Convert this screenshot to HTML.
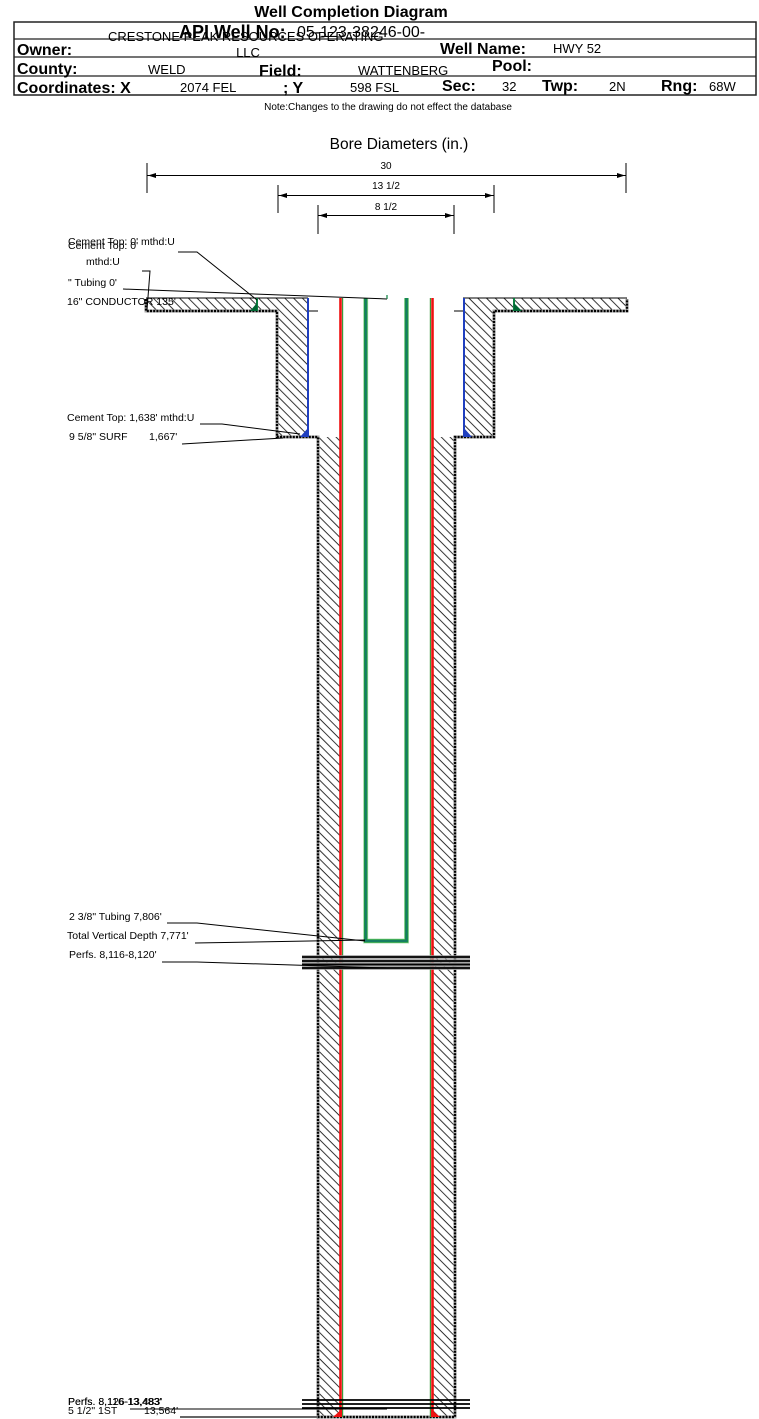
<!DOCTYPE html>
<html><head><meta charset="utf-8"><style>
html,body{margin:0;padding:0;background:#fff;}
svg{display:block;}
text{font-family:"Liberation Sans",Arial,sans-serif;fill:#000;}
.b{font-weight:bold;font-size:16px;}
.n{font-size:13px;}
.l{font-size:10.5px;}
.d{font-size:10px;}
</style></head><body>
<svg width="759" height="1419" viewBox="0 0 759 1419" xmlns="http://www.w3.org/2000/svg">
<defs>
<pattern id="h" patternUnits="userSpaceOnUse" width="6.2" height="20" patternTransform="rotate(-45)">
<line x1="3" y1="-2" x2="3" y2="22" stroke="#000" stroke-width="0.8"/>
</pattern>
</defs>
<rect width="759" height="1419" fill="#fff"/>

<!-- Header -->
<text x="351" y="17" text-anchor="middle" style="font-weight:bold;font-size:16px">Well Completion Diagram</text>
<rect x="14" y="22" width="742" height="73" fill="none" stroke="#222" stroke-width="1.5"/>
<line x1="14" y1="39" x2="756" y2="39" stroke="#222" stroke-width="1.2"/>
<line x1="14" y1="57" x2="756" y2="57" stroke="#222" stroke-width="1.2"/>
<line x1="14" y1="76" x2="756" y2="76" stroke="#222" stroke-width="1.2"/>

<text x="108" y="41" class="n">CRESTONE PEAK RESOURCES OPERATING</text>
<text x="179" y="38" style="font-weight:bold;font-size:18px">API Well No:</text>
<text x="297" y="37" style="font-size:16px">05-123-38246-00-</text>
<text x="248" y="57" class="n" text-anchor="middle">LLC</text>
<text x="17" y="55" class="b">Owner:</text>
<text x="440" y="54" class="b">Well Name:</text>
<text x="553" y="53" class="n">HWY 52</text>

<text x="17" y="74" class="b">County:</text>
<text x="148" y="74" class="n">WELD</text>
<text x="259" y="76" class="b">Field:</text>
<text x="358" y="75" class="n">WATTENBERG</text>
<text x="492" y="71" class="b">Pool:</text>

<text x="17" y="93" class="b">Coordinates: X</text>
<text x="180" y="92" class="n">2074 FEL</text>
<text x="283" y="93" class="b">; Y</text>
<text x="350" y="92" class="n">598 FSL</text>
<text x="442" y="91" class="b">Sec:</text>
<text x="502" y="91" class="n">32</text>
<text x="542" y="91" class="b">Twp:</text>
<text x="609" y="91" class="n">2N</text>
<text x="661" y="91" class="b">Rng:</text>
<text x="709" y="91" class="n">68W</text>

<text x="388" y="110" text-anchor="middle" style="font-size:10px">Note:Changes to the drawing do not effect the database</text>

<!-- Bore diameters -->
<text x="399" y="149" text-anchor="middle" style="font-size:15.5px">Bore Diameters (in.)</text>
<g stroke="#000" stroke-width="1">
<line x1="147" y1="163" x2="147" y2="193"/>
<line x1="626" y1="163" x2="626" y2="193"/>
<line x1="147" y1="175.5" x2="626" y2="175.5"/>
<line x1="278" y1="185" x2="278" y2="213"/>
<line x1="494" y1="185" x2="494" y2="213"/>
<line x1="278" y1="195.5" x2="494" y2="195.5"/>
<line x1="318" y1="205" x2="318" y2="234"/>
<line x1="454" y1="205" x2="454" y2="234"/>
<line x1="318" y1="215.5" x2="454" y2="215.5"/>
</g>
<g fill="#000">
<polygon points="148,175.5 156,173 156,178"/>
<polygon points="625,175.5 617,173 617,178"/>
<polygon points="279,195.5 287,193 287,198"/>
<polygon points="493,195.5 485,193 485,198"/>
<polygon points="319,215.5 327,213 327,218"/>
<polygon points="453,215.5 445,213 445,218"/>
</g>
<text x="386" y="169" text-anchor="middle" class="d">30</text>
<text x="386" y="189" text-anchor="middle" class="d">13 1/2</text>
<text x="386" y="210" text-anchor="middle" class="d">8 1/2</text>

<!-- Hatched cement -->
<rect x="146" y="298" width="162" height="13" fill="url(#h)"/>
<rect x="277" y="311" width="31" height="126" fill="url(#h)"/>
<rect x="318" y="437" width="22" height="980" fill="url(#h)"/>
<rect x="463" y="298" width="164" height="13" fill="url(#h)"/>
<rect x="463" y="311" width="31" height="126" fill="url(#h)"/>
<rect x="433" y="437" width="22" height="980" fill="url(#h)"/>

<!-- outlines -->
<path d="M146,299 L146,311 L277,311 L277,437 L318,437 L318,1417 L455,1417 L455,437 L494,437 L494,311 L627,311 L627,299" fill="none" stroke="#aaa" stroke-width="3"/>
<path d="M146,299 L146,311 L277,311 L277,437 L318,437 L318,1417 L455,1417 L455,437 L494,437 L494,311 L627,311 L627,299" fill="none" stroke="#000" stroke-width="2.4" stroke-dasharray="2 1.2"/>
<line x1="146" y1="298" x2="308" y2="298" stroke="#000" stroke-width="1"/>
<line x1="463" y1="298" x2="627" y2="298" stroke="#000" stroke-width="1"/>
<line x1="308" y1="311" x2="318" y2="311" stroke="#000" stroke-width="1"/>
<line x1="454" y1="311" x2="463" y2="311" stroke="#000" stroke-width="1"/>

<!-- green conductor shoe marks -->
<line x1="257" y1="298" x2="257" y2="311" stroke="#0b8040" stroke-width="2"/>
<polygon points="250,311 257,303 257,311" fill="#063"/>
<line x1="514" y1="298" x2="514" y2="311" stroke="#0b8040" stroke-width="2"/>
<polygon points="514,303 514,311 522,311" fill="#063"/>

<!-- surface casing (blue) -->
<line x1="308" y1="298" x2="308" y2="437" stroke="#1f3fbf" stroke-width="2"/>
<line x1="464" y1="298" x2="464" y2="437" stroke="#1f3fbf" stroke-width="2"/>
<polygon points="308,428 308,437 300,437" fill="#1f3fbf"/>
<polygon points="464,428 464,437 472,437" fill="#1f3fbf"/>

<!-- production casing (red) -->
<line x1="342.6" y1="298" x2="342.6" y2="1417" stroke="#3a9a3a" stroke-width="1.2"/>
<line x1="340.5" y1="298" x2="340.5" y2="1417" stroke="#ee1111" stroke-width="2.6"/>
<line x1="430.4" y1="298" x2="430.4" y2="1417" stroke="#3a9a3a" stroke-width="1.2"/>
<line x1="432.5" y1="298" x2="432.5" y2="1417" stroke="#ee1111" stroke-width="2.6"/>
<polygon points="333,1417 342,1409 342,1417" fill="#ee1111"/>
<polygon points="431,1409 431,1417 440,1417" fill="#ee1111"/>

<!-- tubing -->
<path d="M365.7,298 L365.7,941 L406.5,941 L406.5,298" fill="none" stroke="#b5e0b5" stroke-width="5"/>
<path d="M365.7,298 L365.7,941 L406.5,941 L406.5,298" fill="none" stroke="#1c9a3c" stroke-width="3.6"/>
<path d="M365.7,298 L365.7,941 L406.5,941 L406.5,298" fill="none" stroke="#157a68" stroke-width="1.8"/>

<!-- perfs -->
<g stroke="#999" stroke-width="3.5">
<line x1="302" y1="957" x2="470" y2="957"/>
<line x1="302" y1="961" x2="470" y2="961"/>
<line x1="302" y1="964.5" x2="470" y2="964.5"/>
<line x1="302" y1="968" x2="470" y2="968"/>
</g>
<g stroke="#000" stroke-width="1.8">
<line x1="302" y1="957" x2="470" y2="957"/>
<line x1="302" y1="961" x2="470" y2="961"/>
<line x1="302" y1="964.5" x2="470" y2="964.5"/>
<line x1="302" y1="968" x2="470" y2="968"/>
<line x1="302" y1="1400" x2="470" y2="1400"/>
<line x1="302" y1="1404" x2="470" y2="1404"/>
<line x1="302" y1="1408" x2="470" y2="1408"/>
</g>

<!-- leaders -->
<g stroke="#000" stroke-width="1" fill="none">
<polyline points="178,252 197,252 257,300"/>
<line x1="123" y1="289" x2="387" y2="299"/>
<polyline points="142,271 150,271 147,310"/>
<polyline points="200,424 222,424 300,434"/>
<line x1="182" y1="444" x2="283" y2="438"/>
<polyline points="167,923 197,923 365,941"/>
<line x1="195" y1="943" x2="365" y2="940"/>
<polyline points="162,962 197,962 387,968"/>
<line x1="130" y1="1409" x2="387" y2="1409"/>
</g>
<line x1="180" y1="1417" x2="318" y2="1417" stroke="#666" stroke-width="2"/>
<line x1="387" y1="295" x2="387" y2="299" stroke="#0b8040" stroke-width="1.2"/>

<!-- labels -->
<text x="68" y="245" class="l">Cement Top: 0' mthd:U</text>
<text x="68" y="249" class="l">Cement Top: 0'</text>
<text x="86" y="265" class="l">mthd:U</text>
<text x="68" y="286" class="l">" Tubing 0'</text>
<text x="67" y="305" class="l">16" CONDUCTOR  135'</text>
<text x="67" y="421" class="l">Cement Top: 1,638' mthd:U</text>
<text x="69" y="440" class="l">9 5/8" SURF</text>
<text x="149" y="440" class="l">1,667'</text>
<text x="69" y="920" class="l">2 3/8" Tubing 7,806'</text>
<text x="67" y="939" class="l">Total Vertical Depth 7,771'</text>
<text x="69" y="958" class="l">Perfs. 8,116-8,120'</text>
<text x="68" y="1405" class="l">Perfs. 8,116-13,483'</text>
<text x="68" y="1405" class="l">Perfs. 8,126-13,483'</text>
<text x="68" y="1414" class="l">5 1/2" 1ST</text>
<text x="144" y="1414" class="l">13,564'</text>
</svg>
</body></html>
